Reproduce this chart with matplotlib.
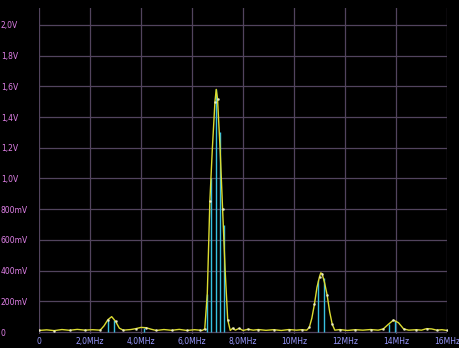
import matplotlib
matplotlib.use("Agg")
import matplotlib.pyplot as plt

# spectrum trace (MHz, V)
freq_mhz = [0, 0.3, 0.6, 0.9, 1.2, 1.5, 1.8, 2.1, 2.4, 2.55, 2.7, 2.85, 3.0,
            3.15, 3.3, 3.6, 3.8, 4.0, 4.2, 4.4, 4.6, 4.9, 5.2, 5.5, 5.8, 6.1,
            6.3, 6.4, 6.5, 6.6, 6.7, 6.8, 6.9, 6.95, 7.0, 7.1, 7.2, 7.3, 7.4,
            7.5, 7.6, 7.7, 7.85, 8.0, 8.2, 8.4, 8.6, 8.9, 9.2, 9.5, 9.8, 10.1,
            10.3, 10.5, 10.6, 10.7, 10.8, 10.9, 11.0, 11.05, 11.1, 11.2, 11.3,
            11.4, 11.5, 11.6, 11.8, 12.1, 12.4, 12.7, 13.0, 13.3, 13.5, 13.7,
            13.9, 14.1, 14.3, 14.5, 14.8, 15.0, 15.2, 15.4, 15.6, 15.8, 16.0]
volts = [0.010, 0.014, 0.009, 0.016, 0.011, 0.017, 0.012, 0.015, 0.012, 0.04,
         0.08, 0.10, 0.07, 0.025, 0.012, 0.016, 0.022, 0.030, 0.028, 0.018,
         0.010, 0.016, 0.011, 0.017, 0.010, 0.015, 0.012, 0.010, 0.02, 0.25,
         0.85, 1.20, 1.50, 1.58, 1.52, 1.20, 0.80, 0.40, 0.08, 0.01, 0.025,
         0.012, 0.024, 0.010, 0.018, 0.012, 0.016, 0.011, 0.015, 0.010, 0.016,
         0.012, 0.015, 0.012, 0.03, 0.09, 0.18, 0.29, 0.36, 0.385, 0.38, 0.32,
         0.24, 0.13, 0.05, 0.012, 0.016, 0.010, 0.015, 0.012, 0.016, 0.012,
         0.02, 0.05, 0.078, 0.06, 0.02, 0.012, 0.015, 0.012, 0.022, 0.020,
         0.012, 0.015, 0.010]

# cyan sample bars under the peaks
stem_mhz = [2.72, 2.95, 4.1, 6.58, 6.75, 6.95, 7.08, 7.25,
            10.94, 11.17, 13.72, 13.97]
stem_v = [0.08, 0.08, 0.025, 0.25, 1.0, 1.58, 1.30, 0.70,
          0.34, 0.35, 0.05, 0.07]

y_ticks = [0, 0.2, 0.4, 0.6, 0.8, 1.0, 1.2, 1.4, 1.6, 1.8, 2.0]
y_labels = ["0", "200mV", "400mV", "600mV", "800mV", "1,0V", "1,2V",
            "1,4V", "1,6V", "1,8V", "2,0V"]
x_ticks = [0, 2, 4, 6, 8, 10, 12, 14, 16]
x_labels = ["0", "2,0MHz", "4,0MHz", "6,0MHz", "8,0MHz", "10MHz", "12MHz",
            "14MHz", "16MHz"]

BG = "black"
GRID = "#52445e"

fig = plt.figure(figsize=(4.59, 3.48), dpi=100, facecolor=BG)
ax = fig.add_axes([39 / 459, 1 - 334 / 348, 408 / 459, 326 / 348])
ax.set_facecolor(BG)

ax.vlines(stem_mhz, 0, stem_v, color="#38c0e0", linewidth=1.0, zorder=2)
ax.plot(freq_mhz, volts, color="#dcdc30", linewidth=1.0, zorder=3)
ax.plot(freq_mhz[::2], volts[::2], linestyle="none", marker="o",
        markersize=0.9, color="#f0f0d0", alpha=0.8, zorder=4)

ax.set_xlim(0, 16)
ax.set_ylim(-0.013, 2.11)
ax.set_xticks(x_ticks)
ax.set_xticklabels(x_labels)
ax.set_yticks(y_ticks)
ax.set_yticklabels(y_labels, ha="left")
ax.tick_params(axis="y", length=0, pad=27.5, labelsize=5.5, colors="#e080e8")
ax.tick_params(axis="x", length=0, pad=2.5, labelsize=5.5, colors="#9a9aff")
ax.grid(True, color=GRID, linewidth=0.9)
ax.set_axisbelow(True)
for s in ax.spines.values():
    s.set_visible(False)

fig.savefig("out.png", dpi=100, facecolor=BG)
